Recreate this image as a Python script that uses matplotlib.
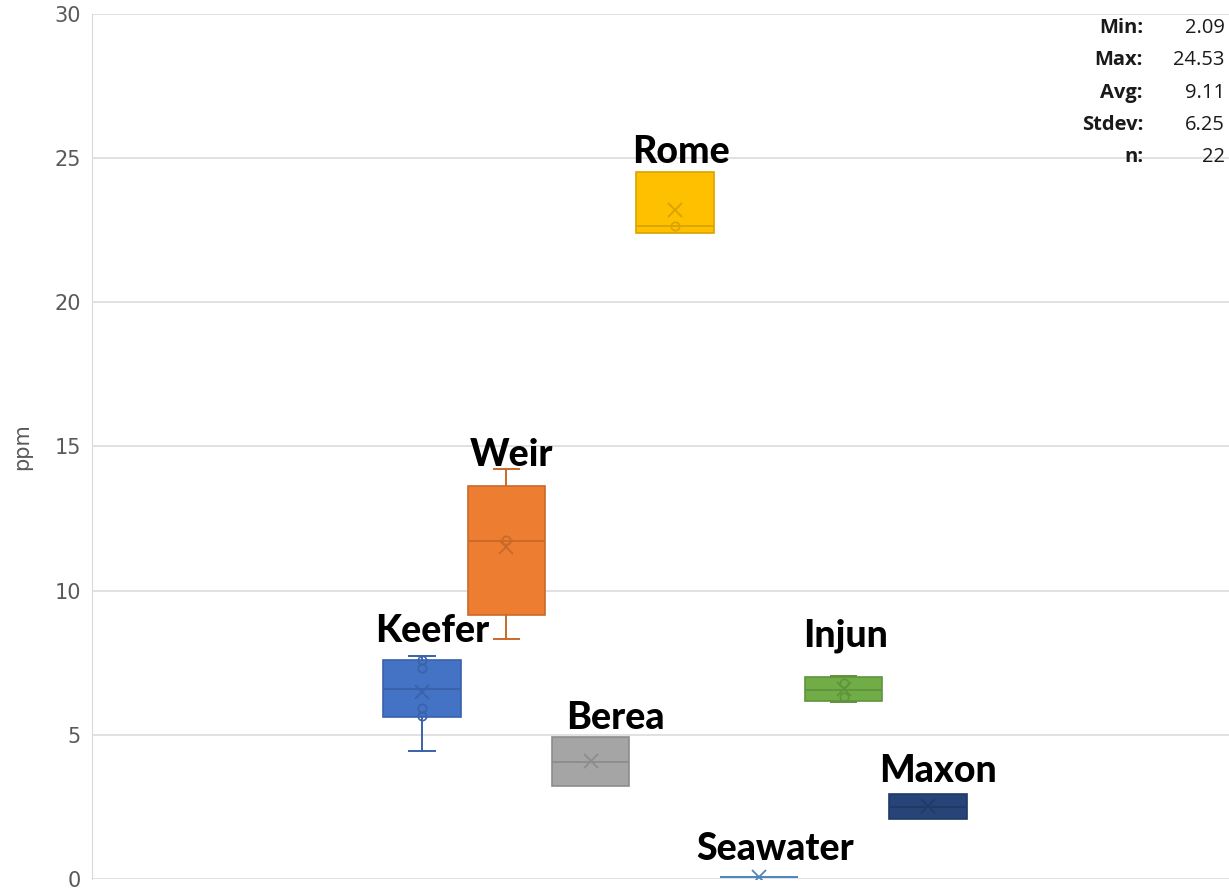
import matplotlib
matplotlib.use("Agg")
import matplotlib.pyplot as plt

# Box-and-whisker summary per formation (ppm)
names = ["Keefer", "Weir", "Berea", "Rome", "Seawater", "Injun", "Maxon"]
whislo = [4.44, 8.33, 3.23, 22.40, 0.07, 6.15, 2.09]
q1 = [5.62, 9.16, 3.23, 22.40, 0.07, 6.18, 2.09]
med = [6.59, 11.73, 4.06, 22.65, 0.07, 6.55, 2.50]
q3 = [7.60, 13.63, 4.93, 24.53, 0.07, 7.00, 2.95]
whishi = [7.73, 14.22, 4.93, 24.53, 0.07, 7.04, 2.95]
means = [6.49, 11.52, 4.08, 23.20, 0.07, 6.60, 2.53]
inner_points = [
    [7.60, 7.33, 5.93, 5.65],
    [11.76],
    [],
    [22.65],
    [],
    [6.80, 6.32],
    [],
]

stat_labels = ["Min:", "Max:", "Avg:", "Stdev:", "n:"]
stat_values = ["2.09", "24.53", "9.11", "6.25", "22"]

# Styling
FILLS = ["#4472C4", "#ED7D31", "#A5A5A5", "#FFC000", "#5B9BD5", "#70AD47", "#264478"]
EDGES = ["#3A62AA", "#C9692A", "#8C8C8C", "#D9A300", "#4E86BC", "#5F933C", "#1F3A66"]
GRID = "#D9D9D9"
TICK_COLOR = "#595959"

W, H = 1229, 891
fig = plt.figure(figsize=(W / 100, H / 100), dpi=100)
ax = fig.add_axes([92 / W, 12 / H, 1 - 92 / W, (879 - 14) / H])

positions = list(range(1, len(names) + 1))
for i, name in enumerate(names):
    st = [dict(label=name, whislo=whislo[i], q1=q1[i], med=med[i], q3=q3[i],
               whishi=whishi[i], mean=means[i], fliers=[])]
    has_whisk = whislo[i] < q1[i] or whishi[i] > q3[i]
    ax.bxp(st, positions=[positions[i]], widths=0.92, patch_artist=True,
           showmeans=True, showcaps=has_whisk, manage_ticks=False,
           boxprops=dict(facecolor=FILLS[i], edgecolor=EDGES[i], linewidth=1.2),
           medianprops=dict(color=EDGES[i], linewidth=1.3),
           whiskerprops=dict(color=EDGES[i], linewidth=1.4),
           capprops=dict(color=EDGES[i], linewidth=1.4),
           capwidths=0.3,
           meanprops=dict(marker="x", markersize=10, markeredgecolor=EDGES[i],
                          markeredgewidth=1.3, linestyle="none"),
           zorder=3)
    if inner_points[i]:
        ax.plot([positions[i]] * len(inner_points[i]), inner_points[i], "o",
                markersize=6, markerfacecolor="none", markeredgecolor=EDGES[i],
                markeredgewidth=1.2, zorder=4)

# Formation labels above each box
label_pos = {
    "Keefer": (1.12, 8.6),
    "Weir": (2.06, 14.7),
    "Berea": (3.29, 5.6),
    "Rome": (4.07, 25.2),
    "Seawater": (5.19, 1.05),
    "Injun": (6.03, 8.45),
    "Maxon": (7.12, 3.75),
}
for name in names:
    x, y = label_pos[name]
    ax.text(x, y, name, ha="center", va="center", fontsize=27, fontweight="black",
            family=["Lato", "DejaVu Sans"], color="black", zorder=5)

ax.set_ylim(0, 30)
ax.set_yticks(range(0, 31, 5))
ax.set_xlim(1 - 330 / 84.3, 1 + 807 / 84.3)
ax.set_xticks([])
ax.grid(axis="y", color=GRID, linewidth=1.1, zorder=0)
ax.set_axisbelow(True)
for side in ["top", "right", "bottom"]:
    ax.spines[side].set_visible(False)
ax.spines["left"].set_color(GRID)
ax.tick_params(axis="y", length=0, pad=8, labelsize=15, labelcolor=TICK_COLOR)
ax.set_ylabel("ppm", fontsize=15, color=TICK_COLOR, labelpad=16)

# Summary statistics box (top right)
for k, (lab, val) in enumerate(zip(stat_labels, stat_values)):
    ypx = 28 + k * 32.3
    fig.text(1143 / W, 1 - ypx / H, lab, ha="right", va="center", fontsize=14.5,
             fontweight="bold", family="Open Sans", color="#1a1a1a")
    fig.text(1225 / W, 1 - ypx / H, val, ha="right", va="center", fontsize=14.5,
             family="Open Sans", color="#1a1a1a")

fig.savefig("out.png", dpi=100, facecolor="white")
